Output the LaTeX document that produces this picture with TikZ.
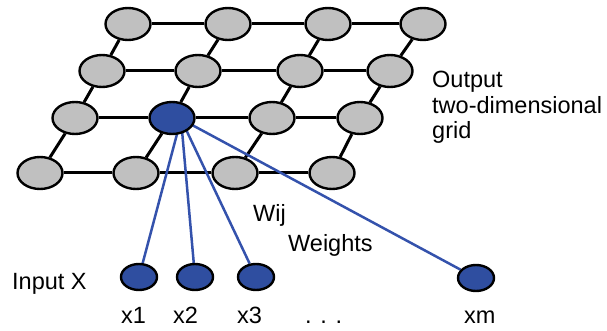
\documentclass[tikz,border=0pt]{standalone}
\usepackage{fontspec}
\setmainfont{Liberation Sans}
\usetikzlibrary{shapes.geometric,backgrounds}
\definecolor{nodeblue}{RGB}{47,78,160}
\definecolor{lineblue}{RGB}{52,82,172}
\definecolor{nodegray}{RGB}{192,192,192}
\begin{document}
\begin{tikzpicture}[x=1pt,y=-1pt,
  gridnode/.style={shape=ellipse,draw=black,line width=2.4pt,fill=nodegray,
    minimum width=45pt,minimum height=32pt,inner sep=0pt},
  winner/.style={gridnode,fill=nodeblue},
  inputnode/.style={shape=ellipse,draw=black,line width=2.4pt,fill=nodeblue,
    minimum width=36pt,minimum height=26pt,inner sep=0pt},
  gridedge/.style={draw=black,line width=3pt},
  weightedge/.style={draw=lineblue,line width=2.5pt},
  lbl/.style={inner sep=0pt,anchor=base west,font=\fontsize{23.5}{25.5}\selectfont}]
\useasboundingbox (0,0) rectangle (607,331);
% output grid
\node[gridnode] (g00) at (128,24) {};
\node[gridnode] (g01) at (228,24) {};
\node[gridnode] (g02) at (328,24) {};
\node[gridnode] (g03) at (423,24) {};
\node[gridnode] (g10) at (102,71) {};
\node[gridnode] (g11) at (198,71) {};
\node[gridnode] (g12) at (300,71) {};
\node[gridnode] (g13) at (390,71) {};
\node[gridnode] (g20) at (75,118) {};
\node[winner]   (g21) at (172,118) {};
\node[gridnode] (g22) at (272,118) {};
\node[gridnode] (g23) at (360,118) {};
\node[gridnode] (g30) at (40,173) {};
\node[gridnode] (g31) at (136,173) {};
\node[gridnode] (g32) at (235,173) {};
\node[gridnode] (g33) at (332,173) {};
% inputs
\node[inputnode] (x1) at (139,277) {};
\node[inputnode] (x2) at (195,277) {};
\node[inputnode] (x3) at (256,277) {};
\node[inputnode] (xm) at (476,278) {};
\coordinate (hub) at (181,119);
\begin{scope}[on background layer]
  \foreach \r in {0,1,2,3}{
    \draw[gridedge] (g\r0) -- (g\r1) -- (g\r2) -- (g\r3);
  }
  \foreach \c in {0,1,2,3}{
    \draw[gridedge] (g0\c) -- (g1\c) -- (g2\c) -- (g3\c);
  }
  \draw[weightedge] (hub) -- (x1);
  \draw[weightedge] (hub) -- (x2);
  \draw[weightedge] (hub) -- (x3);
  \draw[weightedge] (hub) -- (xm);
\end{scope}
% labels
\node[lbl] (out1) at (432,88) {Output};
\node[lbl] (out2) at (432,113.5) {two-dimensional};
\node[lbl] (out3) at (432,139) {grid};
\node[lbl] (inx) at (12,289) {Input X};
\node[lbl] (wij) at (253,221) {Wij};
\node[lbl] (wts) at (288,251) {Weights};
\node[lbl] (l1) at (121,323) {x1};
\node[lbl] (l2) at (173,323) {x2};
\node[lbl] (l3) at (237,323) {x3};
\node[lbl] (ldots) at (305,323) {. . .};
\node[lbl] (lm) at (464,323) {xm};
\end{tikzpicture}
\end{document}
